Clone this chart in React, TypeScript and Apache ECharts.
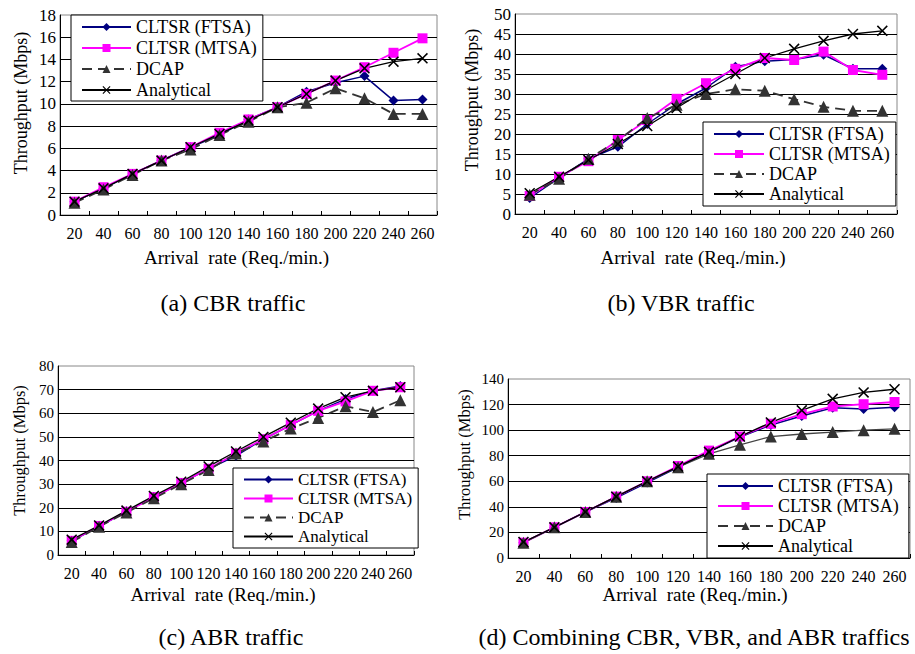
import React, { useEffect, useRef } from "react";
import * as echarts from "echarts";

const categories = ["20", "40", "60", "80", "100", "120", "140", "160", "180", "200", "220", "240", "260"];
const seriesNames = ["CLTSR (FTSA)", "CLTSR (MTSA)", "DCAP", "Analytical"];

// (a) CBR traffic
const cbrFTSA = [1.2, 2.4, 3.7, 4.9, 6.1, 7.2, 8.6, 9.7, 11.1, 11.9, 12.5, 10.3, 10.4];
const cbrMTSA = [1.2, 2.5, 3.7, 4.9, 6.1, 7.4, 8.6, 9.7, 10.9, 12.1, 13.3, 14.6, 15.9];
const cbrDCAP = [1.1, 2.3, 3.6, 4.9, 5.9, 7.2, 8.4, 9.7, 10.1, 11.4, 10.5, 9.1, 9.1];
const cbrAnalytical = [1.2, 2.4, 3.7, 4.9, 6.1, 7.3, 8.5, 9.7, 10.9, 12.1, 13.2, 13.8, 14.1];

// (b) VBR traffic
const vbrFTSA = [4.0, 9.0, 13.8, 16.8, 22.5, 27.5, 31.5, 36.8, 38.2, 38.6, 39.8, 36.3, 36.3];
const vbrMTSA = [4.5, 9.3, 13.2, 18.5, 23.5, 28.8, 32.7, 36.3, 39.0, 38.5, 40.6, 36.0, 34.8];
const vbrDCAP = [4.8, 8.8, 13.8, 18.3, 24.0, 27.3, 30.0, 31.2, 30.8, 28.7, 26.8, 25.8, 25.8];
const vbrAnalytical = [5.2, 9.3, 13.5, 17.5, 22.0, 26.5, 31.0, 35.0, 39.0, 41.3, 43.3, 45.0, 45.8];

// (c) ABR traffic
const abrFTSA = [6.0, 12.0, 18.5, 24.5, 30.5, 36.5, 42.0, 49.0, 55.0, 61.0, 66.0, 69.5, 71.5];
const abrMTSA = [6.0, 12.3, 18.3, 24.5, 30.5, 36.5, 43.0, 49.0, 55.0, 61.0, 65.0, 69.5, 71.0];
const abrDCAP = [5.5, 12.0, 18.0, 24.0, 30.0, 36.0, 43.0, 48.0, 53.5, 58.0, 63.0, 60.5, 65.5];
const abrAnalytical = [6.5, 12.5, 18.8, 25.0, 31.0, 37.5, 43.8, 50.0, 56.0, 62.0, 66.8, 69.5, 71.0];

// (d) Combining CBR, VBR and ABR
const allFTSA = [12, 24, 36, 47, 59, 71, 83, 94.5, 104, 111, 117.5, 116.5, 118];
const allMTSA = [12, 24, 36, 48, 60, 72, 84, 95, 105, 112.5, 118.5, 120.3, 122];
const allDCAP = [12, 24, 36, 48, 60, 71, 81.5, 88.5, 95, 97, 98.5, 100, 101];
const allAnalytical = [12.5, 24, 36, 48, 60, 71.5, 83, 95, 106, 115.5, 124.5, 129.5, 132];

const yMaxes = [18, 50, 80, 140];
const yIntervals = [2, 5, 10, 20];
const captions = [
  "(a) CBR traffic",
  "(b) VBR traffic",
  "(c) ABR traffic",
  "(d) Combining CBR, VBR, and ABR traffics",
];

const FONT = "Liberation Serif";
const CROSS = "path://M0,1L1,0L5,4L9,0L10,1L6,5L10,9L9,10L5,6L1,10L0,9L4,5Z";

const panelData = [
  [cbrFTSA, cbrMTSA, cbrDCAP, cbrAnalytical],
  [vbrFTSA, vbrMTSA, vbrDCAP, vbrAnalytical],
  [abrFTSA, abrMTSA, abrDCAP, abrAnalytical],
  [allFTSA, allMTSA, allDCAP, allAnalytical],
];

const layout = [
  {
    grid: { left: 60, top: 15, width: 377, height: 200 },
    legend: { left: 71, top: 15, font: 18, lh: 18, gap: 3, iw: 49, pad: [3, 6, 2, 10] },
    xGap: 33, xShift: 24, yGap: 30, yShift: 24, yFont: 18, yLabel: 17,
    caption: { x: 233, y: 303 },
  },
  {
    grid: { left: 515, top: 14, width: 382, height: 200 },
    legend: { left: 703, top: 122, font: 18, lh: 18, gap: 2, iw: 50, pad: [3, 6, 3, 10] },
    xGap: 34, xShift: 26, yGap: 34, yShift: 28, yFont: 18, yLabel: 17,
    caption: { x: 681, y: 303 },
  },
  {
    grid: { left: 58, top: 366, width: 356, height: 189 },
    legend: { left: 233, top: 468, font: 17, lh: 17, gap: 2, iw: 49, pad: [3, 6, 3, 10] },
    xGap: 30, xShift: 26, yGap: 30, yShift: 20, yFont: 16.5, yLabel: 15,
    caption: { x: 231, y: 637 },
  },
  {
    grid: { left: 508, top: 379, width: 402, height: 179 },
    legend: { left: 707, top: 474, font: 18, lh: 16, gap: 2, iw: 55, pad: [3, 10, 3, 10] },
    xGap: 27, xShift: 28, yGap: 35, yShift: 28, yFont: 16.5, yLabel: 15,
    caption: { x: 694, y: 637 },
  },
];

function buildOption() {
  const grids: any[] = [];
  const xAxes: any[] = [];
  const yAxes: any[] = [];
  const series: any[] = [];
  const legends: any[] = [];
  const graphics: any[] = [];

  layout.forEach((p, i) => {
    grids.push({
      ...p.grid,
      show: true,
      borderColor: "#888",
      borderWidth: 1,
      backgroundColor: "transparent",
      containLabel: false,
    });
    xAxes.push({
      type: "category",
      gridIndex: i,
      data: categories,
      boundaryGap: true,
      name: "Arrival  rate (Req./min.)",
      nameLocation: "middle",
      nameGap: p.xGap,
      nameTextStyle: { fontFamily: FONT, fontSize: 19, color: "#000", padding: [0, p.xShift, 0, 0] },
      axisLine: { show: true, lineStyle: { color: "#000", width: 1 } },
      axisTick: { show: true, inside: true, length: 4, lineStyle: { color: "#000" } },
      axisLabel: { interval: 0, margin: 10, fontFamily: FONT, fontSize: 16, color: "#000" },
      splitLine: { show: false },
    });
    yAxes.push({
      type: "value",
      gridIndex: i,
      min: 0,
      max: yMaxes[i],
      interval: yIntervals[i],
      name: "Throughput (Mbps)",
      nameLocation: "middle",
      nameGap: p.yGap,
      nameTextStyle: { fontFamily: FONT, fontSize: p.yFont, color: "#000", padding: [0, 0, 0, p.yShift] },
      axisLine: { show: true, lineStyle: { color: "#000", width: 1 } },
      axisTick: { show: false },
      axisLabel: { margin: 4, fontFamily: FONT, fontSize: p.yLabel, color: "#000" },
      splitLine: { show: true, showMaxLine: false, lineStyle: { color: "#000", width: 1 } },
    });

    const [ftsa, mtsa, dcap, ana] = panelData[i];
    series.push(
      {
        name: seriesNames[0],
        type: "line",
        xAxisIndex: i,
        yAxisIndex: i,
        data: ftsa,
        symbol: "diamond",
        symbolSize: 10,
        showAllSymbol: true,
        itemStyle: { color: "#000080" },
        lineStyle: { color: "#000080", width: 1.5 },
      },
      {
        name: seriesNames[1],
        type: "line",
        xAxisIndex: i,
        yAxisIndex: i,
        data: mtsa,
        symbol: "rect",
        symbolSize: 10,
        showAllSymbol: true,
        itemStyle: { color: "#FF00FF" },
        lineStyle: { color: "#FF00FF", width: 1.8 },
      },
      {
        name: seriesNames[2],
        type: "line",
        xAxisIndex: i,
        yAxisIndex: i,
        data: dcap,
        symbol: "triangle",
        symbolSize: 12,
        showAllSymbol: true,
        itemStyle: { color: "#333333" },
        lineStyle: i === 3
          ? { color: "#444444", width: 1.3, type: "solid" }
          : { color: "#333333", width: 1.8, type: [10, 6] },
      },
      {
        name: seriesNames[3],
        type: "line",
        xAxisIndex: i,
        yAxisIndex: i,
        data: ana,
        symbol: CROSS,
        symbolSize: 11,
        showAllSymbol: true,
        itemStyle: { color: "#000000" },
        lineStyle: { color: "#000000", width: 1.3 },
      }
    );

    legends.push({
      show: true,
      orient: "vertical",
      left: p.legend.left,
      top: p.legend.top,
      data: seriesNames,
      itemWidth: p.legend.iw,
      itemHeight: 10,
      itemGap: p.legend.gap,
      padding: p.legend.pad,
      borderColor: "#000",
      borderWidth: 1,
      borderRadius: 0,
      backgroundColor: "#fff",
      selectedMode: false,
      textStyle: { fontFamily: FONT, fontSize: p.legend.font, lineHeight: p.legend.lh, color: "#000" },
    });

    graphics.push({
      type: "text",
      x: p.caption.x,
      y: p.caption.y,
      style: {
        text: captions[i],
        fontFamily: FONT,
        fontSize: 24,
        fill: "#000",
        textAlign: "center",
        textVerticalAlign: "middle",
        align: "center",
        verticalAlign: "middle",
      },
    });
  });

  return {
    animation: false,
    backgroundColor: "#fff",
    textStyle: { fontFamily: FONT },
    grid: grids,
    xAxis: xAxes,
    yAxis: yAxes,
    legend: legends,
    series,
    graphic: graphics,
  };
}

export default function App() {
  const ref = useRef<HTMLDivElement>(null);
  useEffect(() => {
    if (!ref.current) return;
    const chart = echarts.init(ref.current, undefined, { renderer: "svg" });
    chart.setOption(buildOption() as any);
    return () => chart.dispose();
  }, []);
  return (
    <div
      ref={ref}
      style={{ position: "absolute", left: 0, top: 0, width: 915, height: 654, background: "#fff" }}
    />
  );
}
